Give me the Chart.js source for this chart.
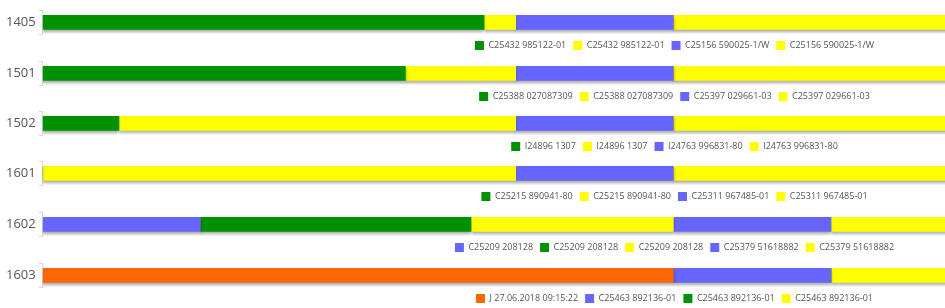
<!DOCTYPE html>
<html>
<head>
<meta charset="utf-8">
<script src="https://cdn.jsdelivr.net/npm/chart.js@4.4.0/dist/chart.umd.min.js"></script>
<style>
  html, body { margin: 0; padding: 0; background: #fff; overflow: hidden; width: 945px; height: 308px; }
  .row { position: absolute; left: 0; }
</style>
</head>
<body>
<div id="rows"></div>
<script>
// one timeline per machine, minutes from the start of the shift
const ROW_LABELS = ["1405", "1501", "1502", "1601", "1602", "1603"];

const SEGMENT_NAMES = [
  ["C25432 985122-01", "C25432 985122-01", "C25156 590025-1/W", "C25156 590025-1/W"],
  ["C25388 027087309", "C25388 027087309", "C25397 029661-03", "C25397 029661-03"],
  ["I24896 1307", "I24896 1307", "I24763 996831-80", "I24763 996831-80"],
  ["C25215 890941-80", "C25215 890941-80", "C25311 967485-01", "C25311 967485-01"],
  ["C25209 208128", "C25209 208128", "C25209 208128", "C25379 51618882", "C25379 51618882"],
  ["J 27.06.2018 09:15:22", "C25463 892136-01", "C25463 892136-01", "C25463 892136-01"],
];

const SEGMENT_STATES = [
  ["run", "idle", "setup", "idle"],
  ["run", "idle", "setup", "idle"],
  ["run", "idle", "setup", "idle"],
  ["run", "idle", "setup", "idle"],
  ["setup", "run", "idle", "setup", "idle"],
  ["stop", "setup", "run", "idle"],
];

const SEGMENT_MINUTES = [
  [168, 12, 60, 256],
  [138, 42, 60, 256],
  [29, 151, 60, 256],
  [0, 180, 60, 256],
  [60, 103, 77, 60, 196],
  [240, 60, 0, 196],
];

const X_MAX = 496;

const STATE_COLORS = {
  run: "#009100",
  idle: "#ffff00",
  setup: "#6666ff",
  stop: "#ff6600",
};

const ROW_TOPS = [0, 51, 101, 151, 202, 253];
const FONT = "'Open Sans', sans-serif";

const barShadow = {
  id: "barShadow",
  beforeDatasetsDraw(chart) {
    const ctx = chart.ctx;
    ctx.save();
    ctx.shadowColor = "rgba(0,0,0,0.35)";
    ctx.shadowBlur = 3;
    ctx.shadowOffsetY = 2;
  },
  afterDatasetsDraw(chart) {
    chart.ctx.restore();
  },
};

function initRow(i) {
  const wrap = document.createElement("div");
  wrap.className = "row";
  wrap.style.top = ROW_TOPS[i] + "px";
  const canvas = document.createElement("canvas");
  canvas.width = 1346;
  canvas.height = 60;
  wrap.appendChild(canvas);
  document.getElementById("rows").appendChild(wrap);

  const datasets = SEGMENT_MINUTES[i].map((v, j) => ({
    label: SEGMENT_NAMES[i][j],
    data: [v],
    backgroundColor: STATE_COLORS[SEGMENT_STATES[i][j]],
    borderWidth: 0,
    barThickness: 14,
  }));

  new Chart(canvas, {
    type: "bar",
    data: { labels: [ROW_LABELS[i]], datasets },
    options: {
      responsive: false,
      animation: false,
      indexAxis: "y",
      layout: { padding: { left: 3, top: 5, right: 0, bottom: 0 } },
      scales: {
        x: { stacked: true, display: false, min: 0, max: X_MAX },
        y: {
          stacked: true,
          border: { display: true, color: "#d6d6d6" },
          grid: { drawOnChartArea: false, tickLength: 4, color: "#d6d6d6" },
          ticks: { color: "#555", padding: 3, font: { family: FONT, size: 13 } },
        },
      },
      plugins: {
        legend: {
          position: "bottom",
          labels: {
            boxWidth: 9,
            boxHeight: 9,
            padding: 7,
            color: "#555",
            font: { family: FONT, size: 9 },
          },
        },
        tooltip: { enabled: false },
      },
    },
    plugins: [barShadow],
  });
}

ROW_LABELS.forEach((_, i) => initRow(i));
</script>
</body>
</html>
